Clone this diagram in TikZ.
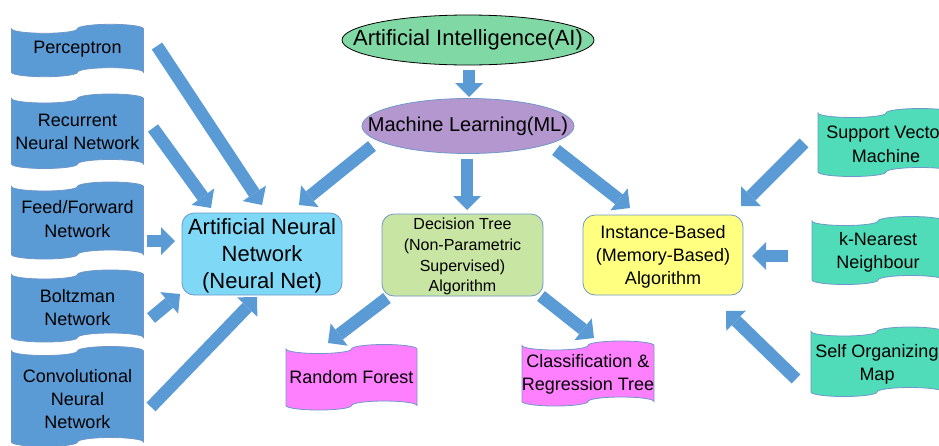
\documentclass[tikz,border=0pt]{standalone}
\usepackage{fontspec}
\setmainfont{Liberation Sans}
\usetikzlibrary{arrows.meta,shapes.geometric}

\definecolor{arrowblue}{HTML}{5B9BD5}
\definecolor{tapeblue}{HTML}{5B9BD5}
\definecolor{tapegreen}{HTML}{50DCB8}
\definecolor{tapepink}{HTML}{FF80FF}
\definecolor{aigreen}{HTML}{80D9A5}
\definecolor{mlpurple}{HTML}{B497CF}
\definecolor{anncyan}{HTML}{7ED8F6}
\definecolor{dtgreen}{HTML}{C8E5A4}
\definecolor{ibyellow}{HTML}{FFFF80}
\definecolor{edgeblue}{HTML}{6F97C9}

% punched-tape outline: #1 left x, #2 right x, #3 top baseline, #4 bottom baseline, #5 fill
\newcommand\tapepath[5]{%
  \pgfmathsetmacro\tpR{(#2-#1)/4}%
  \pgfmathsetmacro\tpK{0.5523*\tpR}%
  \pgfmathsetmacro\tpQ{#1+\tpR}%
  \pgfmathsetmacro\tpM{#1+2*\tpR}%
  \pgfmathsetmacro\tpT{#1+3*\tpR}%
  \draw[tapeline, fill=#5]
    (#1,#3) .. controls (#1,#3+2.5) and (\tpQ-\tpK,#3+4.5) .. (\tpQ,#3+4.5)
    .. controls (\tpQ+\tpK,#3+4.5) and (\tpM,#3+2.5) .. (\tpM,#3)
    .. controls (\tpM,#3-2.5) and (\tpT-\tpK,#3-4.5) .. (\tpT,#3-4.5)
    .. controls (\tpT+\tpK,#3-4.5) and (#2,#3-2.5) .. (#2,#3)
    -- (#2,#4)
    .. controls (#2,#4-2.5) and (\tpT+\tpK,#4-4.5) .. (\tpT,#4-4.5)
    .. controls (\tpT-\tpK,#4-4.5) and (\tpM,#4-2.5) .. (\tpM,#4)
    .. controls (\tpM,#4+2.5) and (\tpQ+\tpK,#4+4.5) .. (\tpQ,#4+4.5)
    .. controls (\tpQ-\tpK,#4+4.5) and (#1,#4+2.5) .. (#1,#4)
    -- cycle;
}

\tikzset{
  tapeline/.style={draw=edgeblue, line width=0.8pt},
  txt/.style={inner sep=0pt, align=center, text=black, text depth=0pt},
  % text box spans from the cap line of the first row to the baseline of the last
  tapetext/.style={txt, font=\fontsize{18}{23.3}\selectfont, text height=12.9pt},
  tapetwo/.style={tapetext, text height=36.2pt},
  tapethree/.style={tapetext, text height=59.5pt},
  boxbase/.style={txt, draw=edgeblue, line width=0.8pt, rectangle, rounded corners=12pt},
  blockarrow/.style={draw=arrowblue, line width=12.5pt, line cap=butt,
    -{Triangle[length=14pt,width=28pt,line width=0pt]}},
}

\begin{document}
\begin{tikzpicture}[x=1pt,y=-1pt]
\useasboundingbox (0,0) rectangle (939,445);
\clip (0,0) rectangle (939,445);

% ---- top ellipses
\node[ellipse, draw=black, line width=0.8pt, fill=aigreen, inner sep=0pt,
      minimum width=252pt, minimum height=50pt,
      font=\fontsize{22}{26}\selectfont, text height=15.8pt, text depth=5pt]
  (ai) at (468,40) {\makebox[0pt]{Artificial Intelligence(AI)}};
\node[ellipse, draw=edgeblue, line width=0.8pt, fill=mlpurple, inner sep=0pt,
      minimum width=212pt, minimum height=55pt,
      font=\fontsize{20}{24}\selectfont, text height=14.3pt, text depth=4pt]
  (ml) at (468,126) {\makebox[0pt]{Machine Learning(ML)}};

% ---- three algorithm families
\node[boxbase, fill=anncyan, minimum width=160pt, minimum height=82pt,
      font=\fontsize{22}{27}\selectfont, text height=69.8pt]
  (ann) at (262,254) {Artificial Neural\\Network\\(Neural Net)};
\node[boxbase, fill=dtgreen, minimum width=161pt, minimum height=82pt,
      font=\fontsize{16}{20.8}\selectfont, text height=73.9pt]
  (dt) at (462.5,255) {Decision Tree\\(Non-Parametric\\Supervised)\\Algorithm};
\node[boxbase, fill=ibyellow, minimum width=160pt, minimum height=80pt,
      font=\fontsize{18}{23}\selectfont, text height=58.9pt]
  (ib) at (663,255) {Instance-Based\\(Memory-Based)\\Algorithm};

% ---- neural network variants (left)
\tapepath{11.5}{143.5}{28.8}{72.2}{tapeblue}
\node[tapetext] (perc) at (77.5,47) {Perceptron};
\tapepath{11.5}{143.5}{98.5}{164}{tapeblue}
\node[tapetwo] (rnn) at (77.5,131.7) {Recurrent\\Neural Network};
\tapepath{11.5}{143.5}{186.5}{254.5}{tapeblue}
\node[tapetwo] (ffn) at (77.5,219) {Feed/Forward\\Network};
\tapepath{11.5}{143.5}{274.5}{337.5}{tapeblue}
\node[tapetwo] (bol) at (77.5,307.5) {Boltzman\\Network};
\tapepath{11.5}{143.5}{351}{442}{tapeblue}
\node[tapethree] (cnn) at (77.5,399) {Convolutional\\Neural\\Network};

% ---- instance-based methods (right)
\tapepath{818}{954}{113}{172}{tapegreen}
\node[tapetwo] (svm) at (886,144) {Support Vector\\Machine};
\tapepath{812}{944}{221}{280}{tapegreen}
\node[tapetwo] (knn) at (878,250.8) {k-Nearest\\Neighbour};
\tapepath{811}{943}{331.5}{392}{tapegreen}
\node[tapetwo] (som) at (877,362.5) {Self Organizing\\Map};

% ---- tree methods (bottom)
\tapepath{286}{417}{349}{405.5}{tapepink}
\node[tapetext] (rf) at (351.5,377) {Random Forest};
\tapepath{522}{654}{345.5}{401.5}{tapepink}
\node[tapetwo] (cart) at (588,372.5) {Classification \&\\Regression Tree};

% ---- block arrows: tail and head points
\coordinate (aiml-s) at (469,70);   \coordinate (aiml-e) at (469,97);
\coordinate (mldt-s) at (467,159);  \coordinate (mldt-e) at (467,210);
\coordinate (mlann-s) at (372,146); \coordinate (mlann-e) at (299,205);
\coordinate (mlib-s) at (556,150);  \coordinate (mlib-e) at (630,208);
\coordinate (perc-s) at (157,46);   \coordinate (perc-e) at (262,205);
\coordinate (rnn-s) at (153,128);   \coordinate (rnn-e) at (211,208);
\coordinate (ffn-s) at (147,241);   \coordinate (ffn-e) at (175,241);
\coordinate (bol-s) at (151,318);   \coordinate (bol-e) at (180,294);
\coordinate (cnn-s) at (151,407);   \coordinate (cnn-e) at (257,297);
\coordinate (svm-s) at (804,143);   \coordinate (svm-e) at (741,206);
\coordinate (knn-s) at (788,256);   \coordinate (knn-e) at (752,256);
\coordinate (som-s) at (796,379);   \coordinate (som-e) at (726,311);
\coordinate (rf-s) at (387,298);    \coordinate (rf-e) at (328,343);
\coordinate (cart-s) at (541,296);  \coordinate (cart-e) at (594,338);

\foreach \a in {aiml,mldt,mlann,mlib,perc,rnn,ffn,bol,cnn,svm,knn,som,rf,cart}
  \draw[blockarrow] (\a-s) -- (\a-e);
\end{tikzpicture}
\end{document}
